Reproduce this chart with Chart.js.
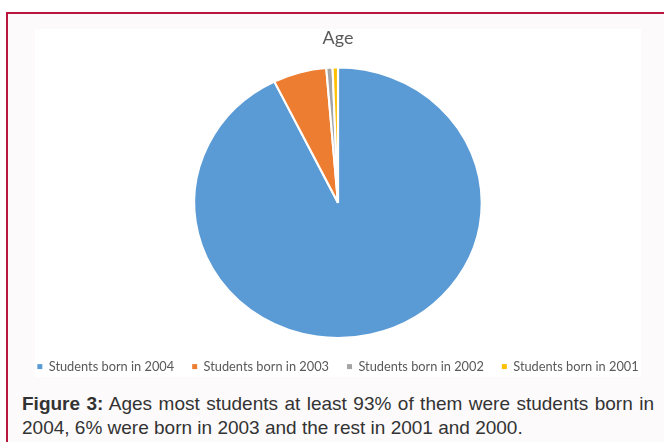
<!DOCTYPE html>
<html>
<head>
<meta charset="utf-8">
<script src="https://cdn.jsdelivr.net/npm/chart.js@4.4.0/dist/chart.umd.min.js"></script>
<style>
  html, body { margin: 0; padding: 0; background: #fff; overflow: hidden; }
  body { width: 664px; height: 442px; position: relative; }
  .frame {
    position: absolute; left: 6px; top: 12px; width: 720px; height: 500px;
    border: 2px solid #b8163e; background: #fcfafb;
  }
  .plot { position: absolute; left: 35px; top: 29px; width: 606px; height: 348px; background: #fff; }
  .chart-box { position: absolute; left: 10px; top: 20px; width: 656px; height: 370px; }
  .caption {
    position: absolute; left: 22px; top: 392px; width: 632px;
    font-family: "Liberation Sans", Arial, sans-serif; font-size: 19px; line-height: 24px;
    color: #333; text-align: justify;
  }
</style>
</head>
<body>
<div class="frame"></div>
<div class="plot"></div>
<div class="chart-box"><canvas id="ageChart"></canvas></div>
<div class="caption"><b>Figure 3:</b> Ages most students at least 93% of them were students born in 2004, 6% were born in 2003 and the rest in 2001 and 2000.</div>

<script>
const titulo = "Age";
const categorias = ["Students born in 2004", "Students born in 2003", "Students born in 2002", "Students born in 2001"];
const valores = [92.7, 6.0, 0.7, 0.6];
const cores = ["#5b9bd5", "#ed7d31", "#a5a5a5", "#ffc000"];

// the pie in the picture is a little wider than it is tall
const esticar = {
  id: "esticar",
  beforeDatasetsDraw(chart) {
    const { ctx, chartArea } = chart;
    const cx = (chartArea.left + chartArea.right) / 2;
    ctx.save();
    ctx.translate(cx, 0);
    ctx.scale(1.063, 1);
    ctx.translate(-cx, 0);
  },
  afterDatasetsDraw(chart) {
    chart.ctx.restore();
  }
};

function criarGrafico() {
  const ctx = document.getElementById("ageChart").getContext("2d");
  new Chart(ctx, {
    type: "pie",
    data: {
      labels: categorias,
      datasets: [{
        data: valores,
        backgroundColor: cores,
        borderColor: "#ffffff",
        borderWidth: 2,
        hoverOffset: 0,
      }],
    },
    options: {
      responsive: true,
      maintainAspectRatio: false,
      animation: false,
      layout: { padding: { top: 0, bottom: 7, left: 0, right: 0 } },
      plugins: {
        title: {
          display: true,
          text: titulo,
          color: "#595959",
          font: { family: "Lato", size: 18, weight: "normal" },
          padding: { top: 7, bottom: 18 },
        },
        legend: {
          position: "bottom",
          title: { display: true, text: "", font: { size: 1 }, padding: { top: 2, bottom: 0 } },
          labels: {
            color: "#595959",
            font: { family: "Lato", size: 12.8 },
            boxWidth: 5,
            boxHeight: 5,
            padding: 18,
            generateLabels(chart) {
              const itens = Chart.controllers.pie.overrides.plugins.legend.labels.generateLabels(chart);
              itens.forEach((it) => { it.lineWidth = 0; it.strokeStyle = it.fillStyle; });
              return itens;
            },
          },
        },
        tooltip: { enabled: false },
      },
    },
    plugins: [esticar],
  });
}

document.addEventListener("DOMContentLoaded", criarGrafico);
</script>
</body>
</html>
